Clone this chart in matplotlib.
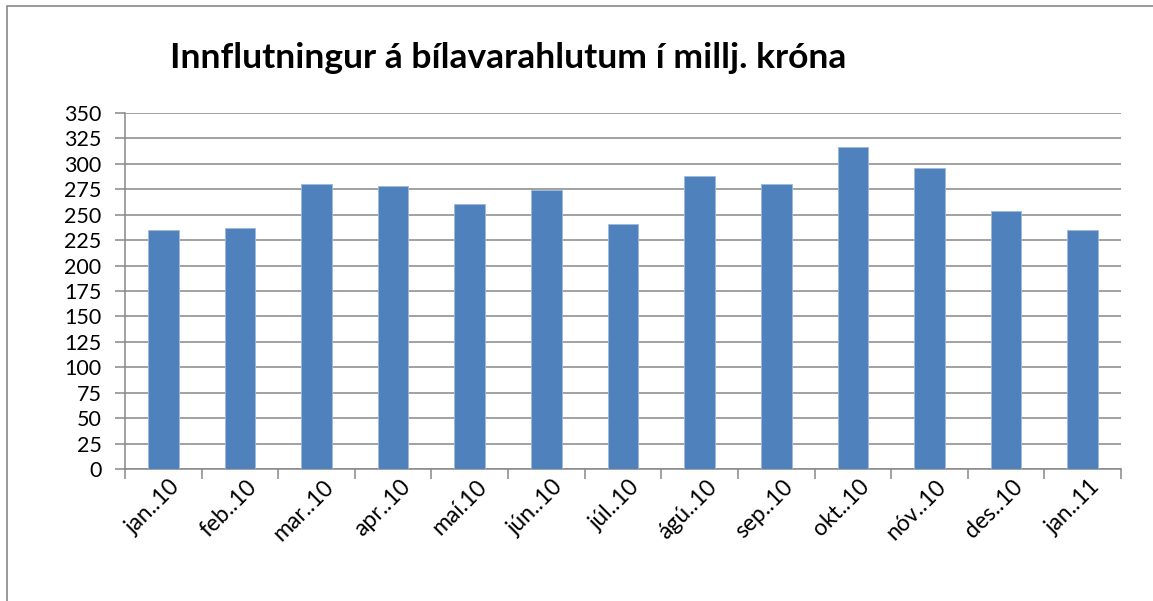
import matplotlib.pyplot as plt
import numpy as np
from matplotlib.patches import Rectangle

plt.rcParams['font.family'] = ['Lato', 'DejaVu Sans']

months = ["jan..10", "feb..10", "mar..10", "apr..10", "maí.10", "jún..10", "júl..10",
          "ágú..10", "sep..10", "okt..10", "nóv..10", "des..10", "jan..11"]
values = [235, 237, 280, 278, 261, 274, 241, 288, 280, 317, 296, 254, 235]
yticks = list(range(0, 351, 25))

W, H = 1153, 601
fig = plt.figure(figsize=(W / 100, H / 100), dpi=100)
ax = fig.add_axes([125 / W, 1 - 469 / H, (1121 - 125) / W, (469 - 113) / H])

x = np.arange(len(values))
ax.bar(x, values, width=0.4, color='#4F81BD', edgecolor='#9DB9DC', linewidth=0.6, zorder=3)

ax.set_xlim(-0.5, len(values) - 0.5)
ax.set_ylim(0, 350)
ax.set_yticks(yticks)
ax.set_yticklabels([str(v) for v in yticks], fontsize=15.5)
ax.grid(axis='y', color='#888888', linewidth=1.1, zorder=0)

ax.set_xticks(x + 0.08)
ax.set_xticklabels(months, rotation=45, ha='right', rotation_mode='anchor', fontsize=16.5)
ax.set_xticks(np.arange(-0.5, len(values)), minor=True)
ax.tick_params(axis='x', which='major', length=0, pad=5)
ax.tick_params(axis='x', which='minor', length=7, color='#888888', width=1.1)
ax.tick_params(axis='y', length=7, color='#888888', width=1.1, pad=10)

for s in ['top', 'right']:
    ax.spines[s].set_visible(False)
for s in ['left', 'bottom']:
    ax.spines[s].set_color('#888888')
    ax.spines[s].set_linewidth(1.1)

fig.text(170 / W, 1 - 58 / H, "Innflutningur á bílavarahlutum í millj. króna",
         fontsize=25.5, fontweight='bold', ha='left', va='center')

fig.patches.append(Rectangle((7 / W, -0.1), 1.2, 1 - 6 / H + 0.1, transform=fig.transFigure,
                             fill=False, edgecolor='#888888', linewidth=1.2))

fig.savefig("out.png", dpi=100)
